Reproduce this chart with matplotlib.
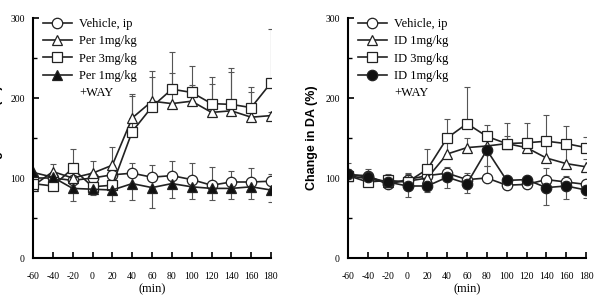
import matplotlib
matplotlib.use('Agg')
import matplotlib.pyplot as plt
from matplotlib.lines import Line2D
from matplotlib.ticker import MultipleLocator

plt.rcParams['font.family'] = 'Liberation Serif'
plt.rcParams['axes.unicode_minus'] = False

x = [-60, -40, -20, 0, 20, 40, 60, 80, 100, 120, 140, 160, 180]

# left panel (Per)
veh = [100, 100, 97, 100, 104, 106, 101, 103, 98, 91, 95, 95, 96]
veh_err = [5, 8, 6, 8, 8, 13, 15, 18, 21, 23, 14, 18, 9]
per1 = [90, 108, 100, 106, 116, 175, 196, 193, 196, 182, 184, 176, 178]
per1_err = [5, 9, 8, 15, 23, 30, 30, 38, 20, 35, 48, 32, 5]
per3 = [93, 90, 112, 89, 91, 158, 189, 211, 207, 193, 192, 188, 219]
per3_err = [5, 5, 24, 5, 5, 45, 45, 47, 33, 33, 45, 26, 67]
perway = [107, 101, 87, 86, 85, 93, 88, 93, 89, 87, 87, 89, 85]
perway_err = [5, 8, 16, 7, 14, 21, 25, 18, 15, 15, 13, 15, 15]

# right panel (ID)
veh2 = [104, 103, 92, 98, 103, 106, 98, 100, 91, 92, 98, 95, 92]
veh2_err = [15, 8, 8, 8, 8, 8, 8, 15, 5, 5, 15, 8, 5]
id1 = [103, 99, 95, 96, 100, 130, 138, 140, 143, 138, 125, 118, 114]
id1_err = [8, 5, 8, 8, 10, 20, 12, 10, 10, 12, 15, 18, 10]
id3 = [103, 95, 97, 95, 111, 150, 168, 152, 143, 144, 146, 143, 138]
id3_err = [5, 5, 8, 10, 25, 24, 46, 14, 26, 25, 33, 22, 13]
idway = [105, 101, 95, 90, 90, 101, 93, 135, 97, 98, 88, 90, 85]
idway_err = [8, 5, 5, 14, 8, 14, 12, 20, 5, 8, 22, 16, 10]

left_labels = ['Vehicle, ip', 'Per 1mg/kg', 'Per 3mg/kg', 'Per 1mg/kg', '+WAY']
right_labels = ['Vehicle, ip', 'ID 1mg/kg', 'ID 3mg/kg', 'ID 1mg/kg', '+WAY']

fig = plt.figure(figsize=(5.94, 2.99), dpi=100)
W, H = 594, 299
ax1 = fig.add_axes([33 / W, (H - 258) / H, 238 / W, 240 / H])
ax2 = fig.add_axes([348 / W, (H - 258) / H, 238 / W, 240 / H])


def series(ax, y, err, marker, filled, upper=True):
    fc = '#111111' if filled else 'white'
    if upper:
        yerr = [[0] * len(err), err]
    else:
        yerr = [err, [0] * len(err)]
    ax.errorbar(x, y, yerr=yerr, fmt='none', ecolor='#555555', elinewidth=0.8,
                capsize=2.5, capthick=0.8, zorder=1)
    line, = ax.plot(x, y, color='#222222', lw=1.2, marker=marker, ms=7.5,
                    mfc=fc, mec='#222222', mew=0.9, zorder=2)
    return line


def style(ax, handles, labels, ylabel_x):
    ax.set_xlim(-60, 180)
    ax.set_ylim(0, 300)
    ax.set_xticks(range(-60, 181, 20))
    ax.set_yticks([0, 100, 200, 300])
    ax.yaxis.set_minor_locator(MultipleLocator(50))
    ax.spines['top'].set_visible(False)
    ax.spines['right'].set_visible(False)
    for s in ['left', 'bottom']:
        ax.spines[s].set_linewidth(1.5)
    ax.tick_params(axis='both', which='major', direction='in', length=4,
                   width=1.2, labelsize=7)
    ax.tick_params(axis='y', which='minor', direction='in', length=3, width=1.0)
    ax.tick_params(axis='x', pad=10)
    ax.tick_params(axis='y', pad=6)
    ax.set_xlabel('(min)', fontsize=9, labelpad=2)
    ax.set_ylabel('Change in DA (%)', fontsize=9, fontweight='bold',
                  family='Liberation Sans')
    ax.yaxis.set_label_coords(ylabel_x, 0.5)
    blank = Line2D([], [], color='none')
    ax.legend(handles + [blank], labels, loc='upper left',
              bbox_to_anchor=(0.02, 1.02), frameon=False,
              fontsize=9, handlelength=2.3, handletextpad=0.6,
              labelspacing=0.42, borderaxespad=0)


h1 = [series(ax1, veh, veh_err, 'o', False),
      series(ax1, per1, per1_err, '^', False),
      series(ax1, per3, per3_err, 's', False),
      series(ax1, perway, perway_err, '^', True, upper=False)]
style(ax1, h1, left_labels, -0.126)

h2 = [series(ax2, veh2, veh2_err, 'o', False),
      series(ax2, id1, id1_err, '^', False),
      series(ax2, id3, id3_err, 's', False),
      series(ax2, idway, idway_err, 'o', True, upper=False)]
style(ax2, h2, right_labels, -0.126)

fig.savefig('out.png', dpi=100)
